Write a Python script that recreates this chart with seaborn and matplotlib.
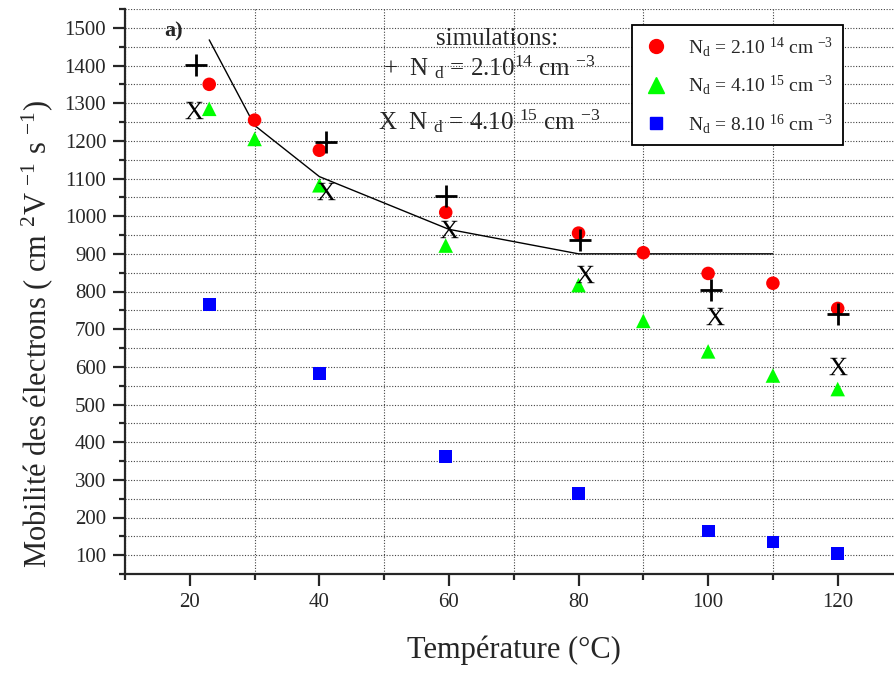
import numpy as np
import pandas as pd
import matplotlib
matplotlib.use("Agg")
import matplotlib.pyplot as plt
from matplotlib.ticker import MultipleLocator, FixedLocator
from matplotlib.lines import Line2D
import seaborn as sns

# mesures (mobilite des electrons vs temperature)
temp_14 = [23, 30, 40, 59.5, 80, 90, 100, 110, 120]
mob_14 = [1350, 1255, 1175, 1010, 955, 903, 848, 822, 755]
temp_15 = [23, 30, 40, 59.5, 80, 90, 100, 110, 120]
mob_15 = [1285, 1205, 1082, 922, 817, 722, 641, 577, 541]
temp_16 = [23, 40, 59.5, 80, 100, 110, 120]
mob_16 = [765, 582, 362, 263, 164, 135, 105]

# simulations
sim_temp_14 = [21, 41, 59.6, 80.3, 100.5, 120]
sim_mob_14 = [1402, 1197, 1053, 936, 803, 740]
sim_temp_15 = [20.7, 41, 60, 81, 101, 120]
sim_mob_15 = [1282, 1066, 967, 847, 736, 603]

# courbe
curve_temp = [23, 30, 40, 60, 80, 110]
curve_mob = [1468, 1241, 1105, 965, 900, 900]

labels = [r"N$_{\rm d}$ = 2.10 $^{14}$ cm $^{-3}$",
          r"N$_{\rm d}$ = 4.10 $^{15}$ cm $^{-3}$",
          r"N$_{\rm d}$ = 8.10 $^{16}$ cm $^{-3}$"]
colors = ["#ff0000", "#00ff00", "#0000ff"]
markers = ["o", "^", "s"]


def main():
    sns.set_style("ticks")
    plt.rcParams["font.family"] = ["Liberation Serif", "DejaVu Serif"]
    plt.rcParams["mathtext.fontset"] = "custom"
    plt.rcParams["mathtext.rm"] = "Liberation Serif"
    plt.rcParams["mathtext.it"] = "Liberation Serif:italic"
    plt.rcParams["mathtext.bf"] = "Liberation Serif:bold"

    fig = plt.figure(figsize=(8.94, 6.73), dpi=100)
    ax = fig.add_axes([125 / 894, 99 / 673, 777.5 / 894, 565 / 673])

    df = pd.concat([
        pd.DataFrame({"T": temp_14, "mu": mob_14, "serie": labels[0]}),
        pd.DataFrame({"T": temp_15, "mu": mob_15, "serie": labels[1]}),
        pd.DataFrame({"T": temp_16, "mu": mob_16, "serie": labels[2]}),
    ])

    sns.lineplot(x=curve_temp, y=curve_mob, color="black", lw=1.0,
                 sort=False, estimator=None, ax=ax, zorder=3)

    sizes = [95, 110, 85]
    for lab, c, m, s in zip(labels, colors, markers, sizes):
        d = df[df["serie"] == lab]
        sns.scatterplot(data=d, x="T", y="mu", color=c, marker=m, s=s,
                        edgecolor="none", ax=ax, zorder=4, legend=False)

    sns.scatterplot(x=sim_temp_14, y=sim_mob_14, marker="+", color="black",
                    s=230, linewidth=2.0, ax=ax, zorder=5, legend=False)
    sns.scatterplot(x=sim_temp_15, y=sim_mob_15, marker=r"$\mathrm{X}$",
                    color="black", s=170, linewidth=0, ax=ax, zorder=5,
                    legend=False)

    ax.set_xlim(10, 130)
    ax.set_ylim(50, 1550)
    ax.xaxis.set_major_locator(MultipleLocator(20))
    ax.xaxis.set_minor_locator(FixedLocator([10, 30, 50, 70, 90, 110, 130]))
    ax.yaxis.set_major_locator(MultipleLocator(100))
    ax.yaxis.set_minor_locator(MultipleLocator(50))

    ax.grid(True, axis="x", which="minor", ls=(0, (1, 1.5)), color="#444444", lw=0.8)
    ax.grid(True, axis="y", which="both", ls=(0, (1, 1.5)), color="#444444", lw=0.8)
    ax.set_axisbelow(True)

    for side in ["top", "right"]:
        ax.spines[side].set_visible(False)
    for side in ["left", "bottom"]:
        ax.spines[side].set_linewidth(1.6)
    ax.tick_params(which="major", direction="out", length=8.5, width=1.6,
                   labelsize=15, pad=5)
    ax.tick_params(which="minor", direction="out", length=4, width=1.6)

    ax.set_xlabel("Température (°C)", fontsize=22)
    ax.set_ylabel(r"Mobilité des électrons ( cm $^{2}$V $^{-1}$ s $^{-1}$)", fontsize=22)
    ax.xaxis.set_label_coords(0.5, -0.108)
    ax.yaxis.set_label_coords(-0.09, 0.425)

    ax.text(16.1, 1489, "a)", fontsize=16, fontweight="bold", ha="left", va="center")
    ax.text(67.4, 1470, "simulations:", fontsize=18, ha="center", va="center")
    ax.text(49.8, 1395, r"+  N $_{\rm d}$ = 2.10$^{14}$ cm $^{-3}$", fontsize=18,
            ha="left", va="center")
    ax.text(49.0, 1252, r"X  N $_{\rm d}$ = 4.10 $^{15}$ cm $^{-3}$", fontsize=18,
            ha="left", va="center")

    handles = [Line2D([], [], ls="none", marker=m, color=c, markersize=ms)
               for c, m, ms in zip(colors, markers, [10, 11, 9])]
    leg = ax.legend(handles, labels, loc="upper left",
                    bbox_to_anchor=((632 - 125) / 777.5, (574 - 25) / 565),
                    fontsize=14, frameon=True, fancybox=False, framealpha=1,
                    edgecolor="black", labelspacing=0.75, handletextpad=0.9,
                    borderpad=0.5, handlelength=1.5, borderaxespad=0)
    leg.get_frame().set_linewidth(1.3)

    fig.savefig("out.png", dpi=100)
    plt.close(fig)


if __name__ == "__main__":
    main()
